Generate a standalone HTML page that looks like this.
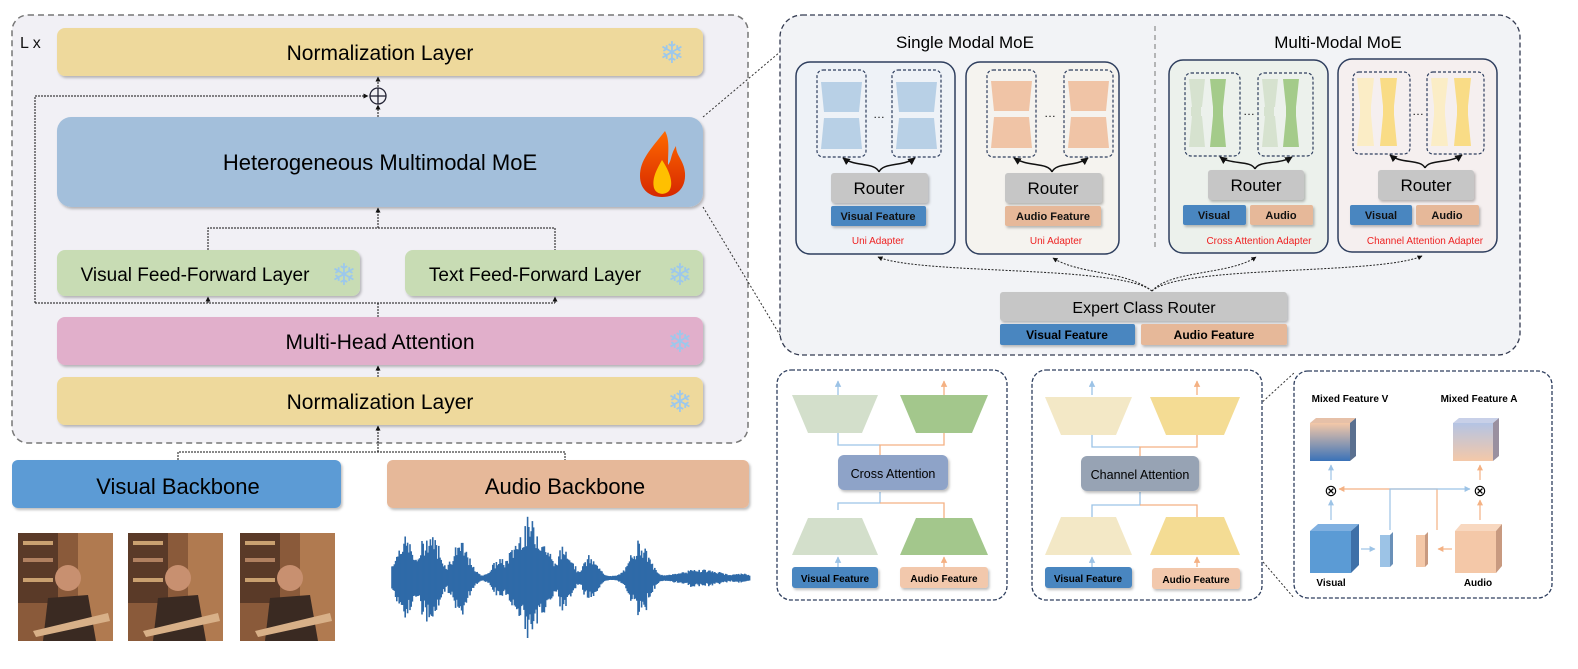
<!DOCTYPE html>
<html><head><meta charset="utf-8"><style>
html,body{margin:0;padding:0;background:#fff;width:1578px;height:669px;overflow:hidden}
svg{display:block}
text{font-family:"Liberation Sans",sans-serif}
</style></head><body>
<svg width="1578" height="669" viewBox="0 0 1578 669" xmlns="http://www.w3.org/2000/svg">
<defs>
<marker id="ah" viewBox="0 0 10 10" refX="9" refY="5" markerWidth="5" markerHeight="5" orient="auto"><path d="M0,0L10,5L0,10z" fill="#111"/></marker>
<marker id="ab" viewBox="0 0 10 10" refX="9" refY="5" markerWidth="5" markerHeight="5" orient="auto"><path d="M0,0L10,5L0,10z" fill="#9cc3e6"/></marker>
<marker id="ao" viewBox="0 0 10 10" refX="9" refY="5" markerWidth="5" markerHeight="5" orient="auto"><path d="M0,0L10,5L0,10z" fill="#f4b183"/></marker>
<linearGradient id="gv" x1="0" y1="0" x2="0" y2="1"><stop offset="0" stop-color="#f4c8a8"/><stop offset="1" stop-color="#3a72b8"/></linearGradient>
<linearGradient id="ga" x1="0" y1="0" x2="0" y2="1"><stop offset="0" stop-color="#b4c4e4"/><stop offset="1" stop-color="#f4c8a8"/></linearGradient>
<linearGradient id="fire" x1="0" y1="0" x2="0" y2="1"><stop offset="0" stop-color="#ff6a00"/><stop offset="1" stop-color="#d62800"/></linearGradient>
<filter id="sh" x="-5%" y="-10%" width="110%" height="130%"><feDropShadow dx="1.5" dy="2" stdDeviation="1.2" flood-color="#000" flood-opacity="0.25"/></filter>
</defs>

<!-- LEFT PANEL -->
<rect x="12" y="15" width="736" height="428" rx="16" fill="#f1f0f5" stroke="#777" stroke-width="1.5" stroke-dasharray="6,4"/>
<text x="20" y="48" font-size="16" fill="#111">L x</text>

<rect x="57" y="28" width="646" height="48" rx="8" fill="#eed99c" filter="url(#sh)"/>
<text x="380" y="60" font-size="21" text-anchor="middle">Normalization Layer</text>

<rect x="57" y="117" width="646" height="90" rx="14" fill="#a3bfdb" filter="url(#sh)"/>
<text x="380" y="170" font-size="22" text-anchor="middle">Heterogeneous Multimodal MoE</text>
<path d="M665,131 C650,150 640,160 640,176 C640,190 650,197 662,197 C676,197 686,189 685,173 C684,160 676,156 676,146 C670,156 672,160 668,165 C668,152 670,140 665,131z" fill="url(#fire)"/>
<path d="M662,160 C655,172 652,180 654,188 C656,194 664,196 669,191 C674,184 670,172 662,160z" fill="#ffc000"/>

<rect x="57" y="250" width="303" height="46" rx="8" fill="#c8dcb4" filter="url(#sh)"/>
<text x="195" y="281" font-size="19" text-anchor="middle">Visual Feed-Forward Layer</text>
<rect x="405" y="250" width="298" height="46" rx="8" fill="#c8dcb4" filter="url(#sh)"/>
<text x="535" y="281" font-size="19" text-anchor="middle">Text Feed-Forward Layer</text>

<rect x="57" y="317" width="646" height="48" rx="8" fill="#e1afcb" filter="url(#sh)"/>
<text x="380" y="349" font-size="21" text-anchor="middle">Multi-Head Attention</text>
<rect x="57" y="377" width="646" height="48" rx="8" fill="#eed99c" filter="url(#sh)"/>
<text x="380" y="409" font-size="21" text-anchor="middle">Normalization Layer</text>

<!-- snowflakes -->
<g fill="#9cc8ec" font-size="30" font-family="DejaVu Sans,sans-serif" text-anchor="middle">
<text x="672" y="63">❄</text><text x="344" y="285">❄</text><text x="680" y="285">❄</text>
<text x="680" y="352">❄</text><text x="680" y="412">❄</text><text x="318" y="496">❄</text><text x="724" y="496">❄</text>
</g>

<!-- left connectors -->
<g stroke="#111" stroke-width="1" fill="none" stroke-dasharray="2,1">
<line x1="378" y1="117" x2="378" y2="105" marker-end="url(#ah)"/>
<line x1="378" y1="87" x2="378" y2="77" marker-end="url(#ah)"/>
<polyline points="35,303 35,96 368,96" marker-end="url(#ah)"/>
<polyline points="35,303 555,303"/>
<line x1="208" y1="303" x2="208" y2="297" marker-end="url(#ah)"/>
<line x1="555" y1="303" x2="555" y2="297" marker-end="url(#ah)"/>
<line x1="378" y1="317" x2="378" y2="303"/>
<polyline points="208,250 208,228 555,228 555,250"/>
<line x1="378" y1="228" x2="378" y2="208" marker-end="url(#ah)"/>
<line x1="378" y1="377" x2="378" y2="366" marker-end="url(#ah)"/>
<polyline points="178,460 178,452 565,452 565,460"/>
<line x1="378" y1="452" x2="378" y2="426" marker-end="url(#ah)"/>
</g>
<circle cx="378" cy="96" r="8" fill="none" stroke="#223" stroke-width="1.3"/>
<line x1="370" y1="96" x2="386" y2="96" stroke="#223" stroke-width="1.3"/>
<line x1="378" y1="88" x2="378" y2="104" stroke="#223" stroke-width="1.3"/>

<!-- backbones -->
<rect x="12" y="460" width="329" height="48" rx="6" fill="#5b9bd5" filter="url(#sh)"/>
<text x="178" y="494" font-size="22" text-anchor="middle">Visual Backbone</text>
<rect x="387" y="460" width="362" height="48" rx="6" fill="#e6b899" filter="url(#sh)"/>
<text x="565" y="494" font-size="22" text-anchor="middle">Audio Backbone</text>

<!-- photos -->
<g>
<g transform="translate(18,533)"><rect width="95" height="108" fill="#8a5a3a"/><rect x="0" y="0" width="40" height="70" fill="#5a3a28"/><rect x="5" y="8" width="30" height="4" fill="#c9a070"/><rect x="5" y="25" width="30" height="4" fill="#b08060"/><rect x="5" y="45" width="30" height="4" fill="#c9a070"/><rect x="60" y="0" width="35" height="108" fill="#b07a50"/><circle cx="50" cy="45" r="13" fill="#c89070"/><path d="M25,108 L30,65 L70,62 L78,108z" fill="#3a2a22"/><path d="M15,98 L90,80 L92,88 L18,104z" fill="#d8b088"/></g>
<g transform="translate(128,533)"><rect width="95" height="108" fill="#8a5a3a"/><rect x="0" y="0" width="40" height="70" fill="#5a3a28"/><rect x="5" y="8" width="30" height="4" fill="#c9a070"/><rect x="5" y="25" width="30" height="4" fill="#b08060"/><rect x="5" y="45" width="30" height="4" fill="#c9a070"/><rect x="60" y="0" width="35" height="108" fill="#b07a50"/><circle cx="50" cy="45" r="13" fill="#c89070"/><path d="M25,108 L30,65 L70,62 L78,108z" fill="#3a2a22"/><path d="M15,98 L90,80 L92,88 L18,104z" fill="#d8b088"/></g>
<g transform="translate(240,533)"><rect width="95" height="108" fill="#8a5a3a"/><rect x="0" y="0" width="40" height="70" fill="#5a3a28"/><rect x="5" y="8" width="30" height="4" fill="#c9a070"/><rect x="5" y="25" width="30" height="4" fill="#b08060"/><rect x="5" y="45" width="30" height="4" fill="#c9a070"/><rect x="60" y="0" width="35" height="108" fill="#b07a50"/><circle cx="50" cy="45" r="13" fill="#c89070"/><path d="M25,108 L30,65 L70,62 L78,108z" fill="#3a2a22"/><path d="M15,98 L90,80 L92,88 L18,104z" fill="#d8b088"/></g>
</g>
<!-- waveform -->
<g id="wave" stroke="#2f6aa8" stroke-width="1.6"></g>

<!-- zoom lines -->
<g stroke="#333" stroke-width="1" stroke-dasharray="2,2" fill="none">
<line x1="703" y1="117" x2="780" y2="52"/>
<line x1="703" y1="207" x2="780" y2="335"/>
<line x1="1198" y1="461" x2="1294" y2="373"/>
<line x1="1198" y1="486" x2="1294" y2="598"/>
</g>

<!-- RIGHT TOP PANEL -->
<rect x="780" y="15" width="740" height="340" rx="22" fill="#f2f3f6" stroke="#333a50" stroke-width="1.3" stroke-dasharray="5,3"/>
<text x="965" y="48" font-size="17" text-anchor="middle">Single Modal MoE</text>
<text x="1338" y="48" font-size="17" text-anchor="middle">Multi-Modal MoE</text>
<line x1="1155" y1="26" x2="1155" y2="250" stroke="#777" stroke-dasharray="5,4"/>

<!-- cards -->
<rect x="796" y="62" width="159" height="192" rx="14" fill="#eef2f7" stroke="#2e3e5e" stroke-width="1.5"/>
<rect x="966" y="62" width="153" height="192" rx="14" fill="#f5f3ef" stroke="#2e3e5e" stroke-width="1.5"/>
<rect x="1169" y="60" width="159" height="193" rx="14" fill="#ecf1ec" stroke="#2e3e5e" stroke-width="1.5"/>
<rect x="1338" y="59" width="159" height="193" rx="14" fill="#f5efef" stroke="#2e3e5e" stroke-width="1.5"/>

<g fill="none" stroke="#2e3e5e" stroke-width="1.2" stroke-dasharray="3,2">
<rect x="817" y="70" width="49" height="87" rx="6"/><rect x="892" y="70" width="49" height="87" rx="6"/>
<rect x="987" y="70" width="49" height="87" rx="6"/><rect x="1064" y="70" width="49" height="87" rx="6"/>
<rect x="1185" y="73" width="55" height="83" rx="6"/><rect x="1258" y="73" width="55" height="83" rx="6"/>
<rect x="1353" y="72" width="57" height="82" rx="6"/><rect x="1427" y="72" width="57" height="82" rx="6"/>
</g>
<!-- card1 expert shapes -->
<g fill="#b8d0e6">
<polygon points="821,82 862,82 859,112 824,112"/><polygon points="824,118 859,118 862,149 821,149"/>
<polygon points="896,82 937,82 934,112 899,112"/><polygon points="899,118 934,118 937,149 896,149"/>
</g>
<g fill="#f0c4a6">
<polygon points="991,81 1032,81 1029,111 994,111"/><polygon points="994,117 1029,117 1032,148 991,148"/>
<polygon points="1068,81 1109,81 1106,111 1071,111"/><polygon points="1071,117 1106,117 1109,148 1068,148"/>
</g>
<g>
<polygon points="1189,79 1205,79 1202,107 1192,107" fill="#d6e2cf"/><polygon points="1192,116 1202,116 1205,147 1189,147" fill="#d6e2cf"/>
<polygon points="1210,79 1226,79 1223,107 1213,107" fill="#a4cb8a"/><polygon points="1213,116 1223,116 1226,147 1210,147" fill="#a4cb8a"/>
<rect x="1191" y="107" width="10" height="9" fill="#d6e2cf"/><rect x="1213" y="107" width="10" height="9" fill="#a4cb8a"/>
<polygon points="1262,79 1278,79 1275,107 1265,107" fill="#d6e2cf"/><polygon points="1265,116 1275,116 1278,147 1262,147" fill="#d6e2cf"/>
<polygon points="1283,79 1299,79 1296,107 1286,107" fill="#a4cb8a"/><polygon points="1286,116 1296,116 1299,147 1283,147" fill="#a4cb8a"/>
<rect x="1264" y="107" width="10" height="9" fill="#d6e2cf"/><rect x="1286" y="107" width="10" height="9" fill="#a4cb8a"/>
</g>
<g>
<polygon points="1357,78 1374,78 1371,106 1360,106" fill="#fbedc6"/><polygon points="1360,115 1371,115 1374,146 1357,146" fill="#fbedc6"/>
<polygon points="1380,78 1397,78 1394,106 1383,106" fill="#f9dc86"/><polygon points="1383,115 1394,115 1397,146 1380,146" fill="#f9dc86"/>
<rect x="1360" y="106" width="11" height="9" fill="#fbedc6"/><rect x="1383" y="106" width="11" height="9" fill="#f9dc86"/>
<polygon points="1431,78 1448,78 1445,106 1434,106" fill="#fbedc6"/><polygon points="1434,115 1445,115 1448,146 1431,146" fill="#fbedc6"/>
<polygon points="1454,78 1471,78 1468,106 1457,106" fill="#f9dc86"/><polygon points="1457,115 1468,115 1471,146 1454,146" fill="#f9dc86"/>
<rect x="1434" y="106" width="11" height="9" fill="#fbedc6"/><rect x="1457" y="106" width="11" height="9" fill="#f9dc86"/>
</g>
<g font-size="12" text-anchor="middle" fill="#111">
<text x="879" y="118">…</text><text x="1050" y="117">…</text><text x="1249" y="115">…</text><text x="1418" y="115">…</text>
</g>
<!-- router arrows -->
<g fill="none" stroke="#111" stroke-width="1.5">
<path d="M879,172 C875,162 855,167 843,158" marker-end="url(#ah)"/><path d="M879,172 C883,162 903,167 915,158" marker-end="url(#ah)"/>
<path d="M1052,172 C1048,162 1028,167 1014,158" marker-end="url(#ah)"/><path d="M1052,172 C1056,162 1076,167 1088,158" marker-end="url(#ah)"/>
<path d="M1255,169 C1251,160 1231,165 1220,157" marker-end="url(#ah)"/><path d="M1255,169 C1259,160 1279,165 1292,157" marker-end="url(#ah)"/>
<path d="M1425,168 C1421,159 1401,164 1390,155" marker-end="url(#ah)"/><path d="M1425,168 C1429,159 1449,164 1462,155" marker-end="url(#ah)"/>
</g>
<!-- routers -->
<g fill="#c6c6c6" filter="url(#sh)">
<rect x="831" y="173" width="97" height="30" rx="3"/><rect x="1005" y="173" width="97" height="30" rx="3"/>
<rect x="1208" y="170" width="96" height="30" rx="3"/><rect x="1378" y="170" width="96" height="30" rx="3"/>
</g>
<g font-size="17" text-anchor="middle"><text x="879" y="194">Router</text><text x="1053" y="194">Router</text><text x="1256" y="191">Router</text><text x="1426" y="191">Router</text></g>
<g filter="url(#sh)">
<rect x="831" y="206" width="95" height="20" rx="2" fill="#4a86c0"/>
<rect x="1005" y="206" width="96" height="20" rx="2" fill="#e6b899"/>
<rect x="1183" y="205" width="63" height="20" rx="2" fill="#4a86c0"/><rect x="1250" y="205" width="63" height="20" rx="2" fill="#e6b899"/>
<rect x="1350" y="205" width="62" height="20" rx="2" fill="#4a86c0"/><rect x="1416" y="205" width="63" height="20" rx="2" fill="#e6b899"/>
</g>
<g font-size="11" text-anchor="middle" font-weight="bold" fill="#111">
<text x="878" y="220">Visual Feature</text><text x="1053" y="220">Audio Feature</text>
<text x="1214" y="219">Visual</text><text x="1281" y="219">Audio</text>
<text x="1381" y="219">Visual</text><text x="1447" y="219">Audio</text>
</g>
<g font-size="10" text-anchor="middle" fill="#ee2222">
<text x="878" y="244">Uni Adapter</text><text x="1056" y="244">Uni Adapter</text>
<text x="1259" y="244">Cross Attention Adapter</text><text x="1425" y="244">Channel Attention Adapter</text>
</g>
<!-- expert class router arrows -->
<g fill="none" stroke="#222" stroke-width="1" stroke-dasharray="2,1.5">
<path d="M1152,291 C1120,265 920,275 878,257" marker-end="url(#ah)"/>
<path d="M1152,291 C1125,270 1080,275 1053,258" marker-end="url(#ah)"/>
<path d="M1152,291 C1170,270 1230,275 1256,257" marker-end="url(#ah)"/>
<path d="M1152,291 C1180,265 1380,275 1422,256" marker-end="url(#ah)"/>
</g>
<rect x="1000" y="292" width="287" height="29" rx="3" fill="#c6c6c6" filter="url(#sh)"/>
<text x="1144" y="313" font-size="16" text-anchor="middle">Expert Class Router</text>
<rect x="1000" y="324" width="135" height="21" rx="2" fill="#4a86c0" filter="url(#sh)"/>
<rect x="1141" y="324" width="146" height="21" rx="2" fill="#e6b899" filter="url(#sh)"/>
<text x="1067" y="339" font-size="12" font-weight="bold" text-anchor="middle">Visual Feature</text>
<text x="1214" y="339" font-size="12" font-weight="bold" text-anchor="middle">Audio Feature</text>

<!-- PANEL A -->
<rect x="777" y="370" width="230" height="230" rx="14" fill="#fff" stroke="#2e3e5e" stroke-width="1.3" stroke-dasharray="4,2"/>
<g fill="none" stroke-width="1.3">
<g stroke="#9cc3e6"><line x1="838" y1="395" x2="838" y2="381" marker-end="url(#ab)"/><polyline points="838,433 838,445 880,445"/><polyline points="838,510 838,503 880,503 880,492"/><line x1="838" y1="567" x2="838" y2="557" marker-end="url(#ab)"/></g>
<g stroke="#f4b183"><line x1="944" y1="395" x2="944" y2="381" marker-end="url(#ao)"/><polyline points="880,455 880,445 944,445 944,433"/><polyline points="944,518 944,503 880,503"/><line x1="944" y1="567" x2="944" y2="557" marker-end="url(#ao)"/></g>
</g>
<polygon points="792,395 878,395 862,433 808,433" fill="#d3dfcb"/>
<polygon points="900,395 988,395 972,433 916,433" fill="#a3c78c"/>
<polygon points="808,518 862,518 878,555 792,555" fill="#d3dfcb"/>
<polygon points="916,518 972,518 988,555 900,555" fill="#a3c78c"/>
<rect x="838" y="455" width="110" height="35" rx="6" fill="#8ea3c8" filter="url(#sh)"/>
<text x="893" y="478" font-size="12.5" text-anchor="middle">Cross Attention</text>
<rect x="792" y="567" width="86" height="21" rx="3" fill="#4a86c0" filter="url(#sh)"/>
<rect x="900" y="567" width="88" height="21" rx="3" fill="#f2c8ac" filter="url(#sh)"/>
<text x="835" y="582" font-size="10" text-anchor="middle" font-weight="bold">Visual Feature</text>
<text x="944" y="582" font-size="10" text-anchor="middle" font-weight="bold">Audio Feature</text>

<!-- PANEL B -->
<rect x="1032" y="370" width="230" height="230" rx="14" fill="#fff" stroke="#2e3e5e" stroke-width="1.3" stroke-dasharray="4,2"/>
<g fill="none" stroke-width="1.3">
<g stroke="#9cc3e6"><line x1="1092" y1="395" x2="1092" y2="381" marker-end="url(#ab)"/><polyline points="1092,433 1092,447 1140,447"/><polyline points="1092,518 1092,505 1140,505 1140,492"/><line x1="1092" y1="567" x2="1092" y2="557" marker-end="url(#ab)"/></g>
<g stroke="#f4b183"><line x1="1197" y1="395" x2="1197" y2="381" marker-end="url(#ao)"/><polyline points="1140,456 1140,447 1197,447 1197,433"/><polyline points="1197,518 1197,505 1140,505"/><line x1="1197" y1="567" x2="1197" y2="557" marker-end="url(#ao)"/></g>
</g>
<polygon points="1045,397 1132,397 1116,435 1061,435" fill="#f3e8c6"/>
<polygon points="1150,397 1240,397 1224,435 1166,435" fill="#f4dc94"/>
<polygon points="1061,517 1116,517 1132,555 1045,555" fill="#f3e8c6"/>
<polygon points="1166,517 1224,517 1240,555 1150,555" fill="#f4dc94"/>
<rect x="1081" y="456" width="118" height="35" rx="6" fill="#97a3b4" filter="url(#sh)"/>
<text x="1140" y="479" font-size="12.5" text-anchor="middle">Channel Attention</text>
<rect x="1045" y="567" width="87" height="21" rx="3" fill="#4a86c0" filter="url(#sh)"/>
<rect x="1152" y="568" width="88" height="21" rx="3" fill="#f2c8ac" filter="url(#sh)"/>
<text x="1088" y="582" font-size="10" text-anchor="middle" font-weight="bold">Visual Feature</text>
<text x="1196" y="583" font-size="10" text-anchor="middle" font-weight="bold">Audio Feature</text>

<!-- PANEL C -->
<rect x="1294" y="371" width="258" height="227" rx="14" fill="#fff" stroke="#2e3e5e" stroke-width="1.3" stroke-dasharray="4,2"/>
<text x="1350" y="402" font-size="10" font-weight="bold" text-anchor="middle">Mixed Feature V</text>
<text x="1479" y="402" font-size="10" font-weight="bold" text-anchor="middle">Mixed Feature A</text>
<polygon points="1310,423 1350,423 1356,418 1316,418" fill="#e6c0a8"/>
<rect x="1310" y="423" width="40" height="38" fill="url(#gv)"/>
<polygon points="1350,423 1356,418 1356,456 1350,461" fill="#5a7090"/>
<polygon points="1453,423 1493,423 1499,418 1459,418" fill="#c8d0e8"/>
<rect x="1453" y="423" width="40" height="38" fill="url(#ga)"/>
<polygon points="1493,423 1499,418 1499,456 1493,461" fill="#9a90a0"/>
<text x="1331" y="496" font-size="16" text-anchor="middle">⊗</text>
<text x="1480" y="496" font-size="16" text-anchor="middle">⊗</text>
<g fill="none" stroke-width="1.2">
<line x1="1331" y1="480" x2="1331" y2="465" stroke="#9cc3e6" marker-end="url(#ab)"/>
<line x1="1331" y1="520" x2="1331" y2="500" stroke="#9cc3e6" marker-end="url(#ab)"/>
<line x1="1480" y1="480" x2="1480" y2="465" stroke="#f4b183" marker-end="url(#ao)"/>
<line x1="1480" y1="520" x2="1480" y2="500" stroke="#f4b183" marker-end="url(#ao)"/>
<polyline points="1437,530 1437,489 1339,489" stroke="#f4b183" marker-end="url(#ao)"/>
<polyline points="1390,530 1390,489 1470,489" stroke="#9cc3e6" marker-end="url(#ab)"/>
<line x1="1361" y1="549" x2="1375" y2="549" stroke="#9cc3e6" marker-end="url(#ab)"/>
<line x1="1452" y1="549" x2="1438" y2="549" stroke="#f4b183" marker-end="url(#ao)"/>
</g>
<polygon points="1310,531 1351,531 1359,524 1318,524" fill="#80b0e0"/>
<rect x="1310" y="531" width="41" height="42" fill="#5b9bd5"/>
<polygon points="1351,531 1359,524 1359,565 1351,573" fill="#3e70a8"/>
<polygon points="1455,531 1496,531 1502,524 1461,524" fill="#f8d8c0"/>
<rect x="1455" y="531" width="41" height="42" fill="#f4c8a8"/>
<polygon points="1496,531 1502,524 1502,566 1496,573" fill="#c89a80"/>
<rect x="1380" y="535" width="10" height="32" fill="#9cc3e6"/><polygon points="1390,535 1393,532 1393,564 1390,567" fill="#6a90b8"/>
<rect x="1416" y="535" width="9" height="32" fill="#f4c8a8"/><polygon points="1425,535 1428,532 1428,564 1425,567" fill="#c89a80"/>
<text x="1331" y="586" font-size="10" font-weight="bold" text-anchor="middle">Visual</text>
<text x="1478" y="586" font-size="10" font-weight="bold" text-anchor="middle">Audio</text>
</svg>
<script>
(function(){var g=document.getElementById('wave'),s='';var seed=7;function r(){seed=(seed*9301+49297)%233280;return seed/233280;}
var bursts=[[405,12,45],[430,14,50],[460,12,38],[500,10,20],[530,22,62],[565,10,35],[590,10,22],[640,12,42],[700,25,8],[740,10,3]];
for(var x=392;x<750;x+=1.2){var env=0;
for(var i=0;i<bursts.length;i++){var b=bursts[i];var d=(x-b[0])/b[1];env=Math.max(env,b[2]*Math.exp(-d*d));}
env=env*(0.55+0.45*r())+2;var up=env*(0.8+0.2*r()),dn=env*(0.8+0.2*r());
s+='<line x1="'+x.toFixed(1)+'" y1="'+(578-up).toFixed(1)+'" x2="'+x.toFixed(1)+'" y2="'+(578+dn).toFixed(1)+'"/>';}
g.innerHTML=s;})();
</script>
</body></html>
